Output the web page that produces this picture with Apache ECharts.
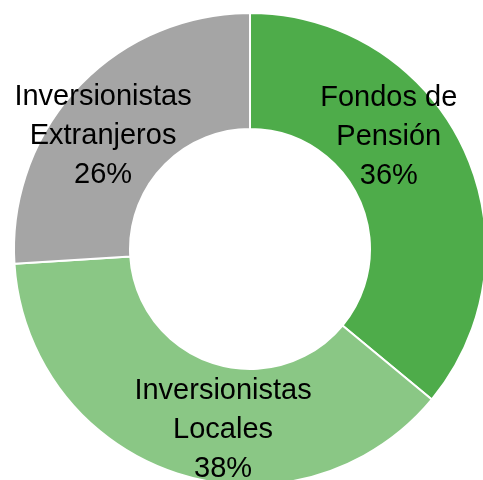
<!DOCTYPE html>
<html>
<head>
<meta charset="utf-8">
<script src="https://cdn.jsdelivr.net/npm/echarts@6/dist/echarts.min.js"></script>
<style>
  html, body { margin: 0; padding: 0; background: #fff; }
  #chart { width: 483px; height: 480px; }
</style>
</head>
<body>
<div id="chart"></div>
<script>
// Investor breakdown (percent of total)
const categories = ['Fondos de\nPensión', 'Inversionistas\nLocales', 'Inversionistas\nExtranjeros'];
const shares = [36, 38, 26];
const colors = ['#4EAC4A', '#8AC785', '#A5A5A5'];
// Nudges for each slice label relative to its default inside position
const labelShiftX = [-25, 29, -15];
const labelShiftY = [-35, 9, 11];

const chart = echarts.init(document.getElementById('chart'));
chart.setOption({
  animation: false,
  backgroundColor: '#fff',
  series: [{
    type: 'pie',
    center: [250, 249],
    radius: [120, 236],
    startAngle: 90,
    clockwise: true,
    avoidLabelOverlap: false,
    emphasis: { disabled: true },
    itemStyle: { borderColor: '#ffffff', borderWidth: 2 },
    label: {
      show: true,
      position: 'inside',
      color: '#000',
      fontFamily: 'Liberation Sans, Arial, sans-serif',
      fontSize: 29,
      lineHeight: 39,
      align: 'center',
      formatter: p => p.name + '\n' + p.value + '%'
    },
    labelLayout: p => ({ dx: labelShiftX[p.dataIndex], dy: labelShiftY[p.dataIndex] }),
    data: categories.map((name, i) => ({
      name: name,
      value: shares[i],
      itemStyle: { color: colors[i] }
    }))
  }]
});
</script>
</body>
</html>
